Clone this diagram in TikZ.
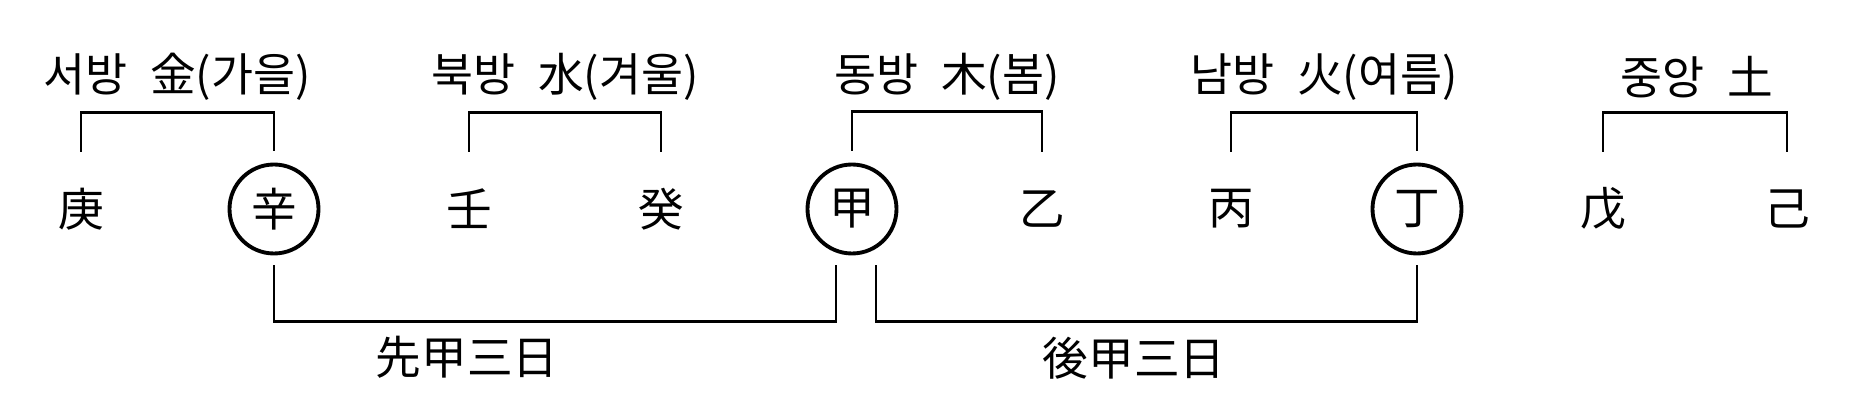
\documentclass[tikz,border=0pt]{standalone}
\usepackage{fontspec}
\setmainfont{Noto Sans CJK KR}
\usepackage{tikz}
\usetikzlibrary{shapes.geometric,positioning,calc}

\newcommand{\widegap}{\hspace{0.5em}}

\begin{document}
\begin{tikzpicture}[
    stem/.style={circle, minimum size=0.89cm, inner sep=0pt,
                 font=\fontsize{13}{15}\selectfont},
    marked/.style={stem, draw, line width=1.1pt},
    season/.style={font=\fontsize{13}{15}\selectfont},
    link/.style={line width=0.8pt}
  ]
  \useasboundingbox (0,0) rectangle (18.61,-4.13);
  % Ten stems
  \node[stem]   (gyeong) at (0.81,-2.09)  {庚};
  \node[marked] (sin)    at (2.74,-2.09)  {辛};
  \node[stem]   (im)     at (4.69,-2.09)  {壬};
  \node[stem]   (gye)    at (6.61,-2.09)  {癸};
  \node[marked] (gap)    at (8.52,-2.09)  {甲};
  \node[stem]   (eul)    at (10.42,-2.09) {乙};
  \node[stem]   (byeong) at (12.31,-2.09) {丙};
  \node[marked] (jeong)  at (14.17,-2.09) {丁};
  \node[stem]   (mu)     at (16.03,-2.09) {戊};
  \node[stem]   (gi)     at (17.87,-2.09) {己};
  % Directions and seasons
  \node[season] (west)   at (1.77,-0.77)  {서방\widegap 金(가을)};
  \node[season] (north)  at (5.65,-0.77)  {북방\widegap 水(겨울)};
  \node[season] (east)   at (9.47,-0.77)  {동방\widegap 木(봄)};
  \node[season] (south)  at (13.24,-0.77) {남방\widegap 火(여름)};
  \node[season] (centre) at (16.97,-0.77) {중앙\widegap 土};
  % Brackets over each pair
  \foreach \a/\b in {gyeong/sin, im/gye, gap/eul, byeong/jeong, mu/gi}
    \draw[link] ([yshift=1.2mm]\a.north) -- ++(0,0.39) -| ([yshift=1.2mm]\b.north);
  % Three days before and after
  \draw[link] ([yshift=-1mm]sin.south) -- ++(0,-0.56)
    -| ([xshift=-1.6mm,yshift=-1mm]gap.south);
  \draw[link] ([xshift=2.4mm,yshift=-1mm]gap.south) -- ++(0,-0.56)
    -| ([yshift=-1mm]jeong.south);
  \node[season] (before) at (4.67,-3.57)  {先甲三日};
  \node[season] (after)  at (11.34,-3.58) {後甲三日};
\end{tikzpicture}
\end{document}
